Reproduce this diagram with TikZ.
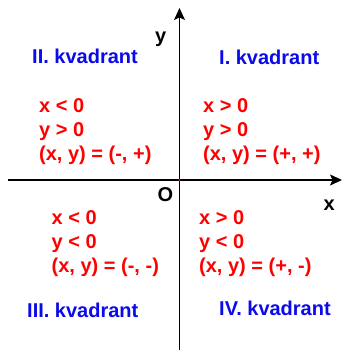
\documentclass[tikz,border=0pt]{standalone}
\usepackage{fontspec}
\setmainfont{Liberation Sans}
\usetikzlibrary{arrows.meta}
\definecolor{qred}{RGB}{255,0,0}
\definecolor{qblue}{RGB}{10,10,235}
\begin{document}
\begin{tikzpicture}[x=1pt,y=-1pt,
  txt/.style={inner sep=0pt,anchor=base west,font=\fontsize{20}{24}\selectfont\bfseries},
  cond/.style={txt,text=qred},
  quad/.style={txt,text=qblue},
  lbl/.style={txt,text=black},
  axis/.style={line width=1.4pt,-{Stealth[length=12pt,width=11pt,inset=2.5pt]}}]
\useasboundingbox (0,0) rectangle (343,350);
\fill[white] (0,0) rectangle (343,350);
\coordinate (xl) at (8,180);
\coordinate (xr) at (342,180);
\coordinate (yb) at (179.5,350);
\coordinate (yt) at (179.5,8);
\coordinate (o) at (179.5,180);
\draw[axis] (xl) -- (xr);
\draw[axis] (yb) -- (yt);
\fill[qred] (o) circle (1.2);
\node[lbl] (ylab) at (155,42.5) {y};
\node[lbl] (xlab) at (323.5,210) {x};
\node[lbl] (olab) at (157.5,201) {O};
% quadrant titles
\node[quad] (q1t) at (219,65) {I. kvadrant};
\node[quad] (q2t) at (32,64) {II. kvadrant};
\node[quad] (q3t) at (27,317) {III. kvadrant};
\node[quad] (q4t) at (219,315) {IV. kvadrant};
% II
\node[cond] (q2a) at (39,112) {x < 0};
\node[cond] (q2b) at (39,136) {y > 0};
\node[cond] (q2c) at (39,160) {(x, y) = (-, +)};
% I
\node[cond] (q1a) at (203,112) {x > 0};
\node[cond] (q1b) at (203,136) {y > 0};
\node[cond] (q1c) at (203,160) {(x, y) = (+, +)};
% III
\node[cond] (q3a) at (51.5,224) {x < 0};
\node[cond] (q3b) at (51.5,248) {y < 0};
\node[cond] (q3c) at (51.5,272) {(x, y) = (-, -)};
% IV
\node[cond] (q4a) at (199,224) {x > 0};
\node[cond] (q4b) at (199,248) {y < 0};
\node[cond] (q4c) at (199,272) {(x, y) = (+, -)};
\end{tikzpicture}
\end{document}
